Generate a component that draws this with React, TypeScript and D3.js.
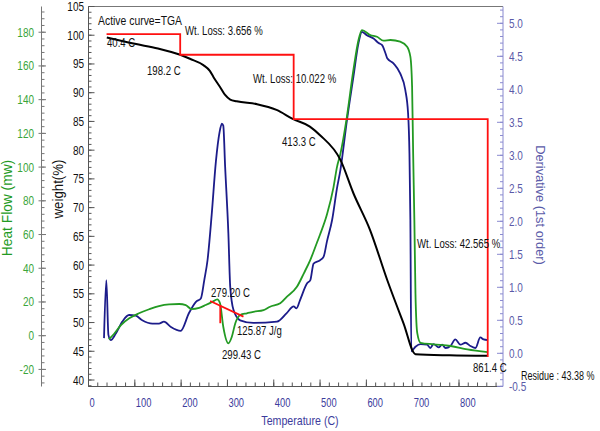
import React from 'react';
import * as d3 from 'd3';

// ---- Data ----
const tgaTemp = [39.5, 100, 150, 198, 219, 248, 262, 270, 284, 295, 306, 320, 364, 406, 442, 478, 500, 544, 572, 608, 645, 680, 706, 780, 862];
const tgaWeight = [99.6, 98.5, 97.7, 96.6, 95.9, 94.8, 93.8, 92.7, 91.0, 89.6, 88.8, 88.5, 88.0, 87.0, 85.4, 84.1, 82.6, 78.3, 72.5, 66.1, 57.4, 49.9, 44.5, 44.3, 44.2];

const dscTemp = [44, 55, 70, 88, 109, 131, 152, 174, 196, 210, 222, 239, 253, 268, 278, 284, 291, 302, 309.5, 317, 327.5, 342, 356, 378, 392, 414, 428, 450, 465, 479, 493, 500, 515, 529, 536.5, 544, 558, 572, 583, 590.5, 608.5, 623, 637, 652, 673, 688, 695, 698.7, 701, 703.6, 706, 708, 710, 717, 745, 782, 818, 862];
const dscHeatFlow = [-2.1, 1, 6.3, 10.3, 13.3, 15.7, 17.6, 18.6, 18.8, 18.2, 15.8, 16.5, 18.2, 20.2, 21.6, 19.2, 5.3, -4.5, -0.6, 7.4, 12.3, 13.3, 14.2, 15.2, 17.2, 19.2, 23, 29, 37, 45, 55, 60, 72, 88, 100, 108, 130, 157.6, 175.4, 181.3, 178.3, 177.3, 175, 175.4, 174.4, 171.4, 165.5, 147.7, 108, 68.6, 25, 8, 1.4, -4.2, -5.1, -6.1, -8.1, -9.8];

const derivTemp = [33.5, 38.5, 43, 48, 59, 73, 87.5, 102, 116, 138, 152, 163, 178, 199, 217, 232, 242.5, 250, 257, 266, 275, 283, 288, 291, 295, 302, 306, 313, 327.5, 356, 407, 428, 443, 449, 457, 472, 479, 486, 500, 507.5, 515, 526, 536.5, 544, 558, 572, 583, 590.5, 601, 615.5, 626.5, 634, 641, 645, 659, 673, 684, 690, 693, 695, 697, 706, 717, 731, 738, 745, 756, 763.5, 771, 781.5, 792, 803, 814, 825, 835.5, 846, 853, 862];
const derivValue = [0.23, 1.11, 0.28, 0.2, 0.3, 0.48, 0.58, 0.57, 0.5, 0.45, 0.45, 0.48, 0.4, 0.34, 0.61, 0.78, 0.83, 1.11, 1.41, 2.1, 2.9, 3.35, 3.48, 3.45, 2.83, 1.82, 1.01, 0.66, 0.5, 0.46, 0.48, 0.61, 0.71, 0.68, 0.81, 1.06, 1.11, 1.36, 1.41, 1.46, 1.7, 2.02, 2.5, 2.78, 3.53, 4.19, 4.7, 4.87, 4.82, 4.77, 4.7, 4.67, 4.55, 4.47, 4.39, 4.24, 3.99, 3.64, 3.03, 2.02, 0.03, 0.1, 0.14, 0.13, 0.08, 0.14, 0.09, 0.13, 0.08, 0.11, 0.21, 0.13, 0.16, 0.11, 0.08, 0.24, 0.21, 0.2];

const stepTemp = [39, 198, 198, 443, 443, 862, 862];
const stepWeight = [100.2, 100.2, 96.6, 96.6, 85.4, 85.4, 44.0];

const dscBaseTemp = [262.6, 334.6];
const dscBaseFlow = [20.6, 11.3];
const dscMarkTemp = [284.5, 284.5];
const dscMarkFlow = [18.2, 7.4];

const xTicks = [0, 100, 200, 300, 400, 500, 600, 700, 800];
const weightTicks = [40, 45, 50, 55, 60, 65, 70, 75, 80, 85, 90, 95, 100, 105];
const heatTicks = [-20, 0, 20, 40, 60, 80, 100, 120, 140, 160, 180];
const derivTicks = [-0.5, 0, 0.5, 1, 1.5, 2, 2.5, 3, 3.5, 4, 4.5, 5];

// ---- Layout ----
const W = 600, H = 431;
const L = 88.5, R = 503, T = 6.5, B = 386.5;
const FONT = "'Liberation Sans', Arial, sans-serif";

const x = d3.scaleLinear().domain([0, 895]).range([L, R]);
const yW = d3.scaleLinear().domain([38.87, 105]).range([B, T]);
const yH = d3.scaleLinear().domain([-30.13, 195.26]).range([B, T]);
const yD = d3.scaleLinear().domain([-0.503, 5.2545]).range([B, T]);

function mkLine(xs: number[], ys: number[], ys2: (v: number) => number) {
  const pts = xs.map((t, i) => [t, ys[i]] as [number, number]);
  return d3.line<[number, number]>().x(d => x(d[0])).y(d => ys2(d[1])).curve(d3.curveMonotoneX)(pts) || '';
}
function mkPoly(xs: number[], ys: number[], ys2: (v: number) => number) {
  const pts = xs.map((t, i) => [t, ys[i]] as [number, number]);
  return d3.line<[number, number]>().x(d => x(d[0])).y(d => ys2(d[1]))(pts) || '';
}

type NTProps = { x: number; y: number; size: number; sx?: number; rot?: number; anchor?: string; fill?: string; children: React.ReactNode };
function NText({ x, y, size, sx = 0.8, rot = 0, anchor = 'start', fill = '#111', children }: NTProps) {
  return (
    <text transform={`translate(${x},${y}) rotate(${rot}) scale(${sx},1)`} fontSize={size} textAnchor={anchor} fill={fill}>
      {children}
    </text>
  );
}

export default function App() {
  const heatMinor = d3.range(-28, 196, 4);
  const weightMinor = d3.range(39, 106, 1);
  const derivMinor = d3.range(-5, 53, 1).map(v => v / 10);
  const xMinor = d3.range(0, 895, 20);
  const green = '#239a23';
  const greenLbl = '#3aa53a';
  const blue = '#1c1c8a';
  const blueLbl = '#5a5aa8';
  const xLbl = '#3c3c9c';
  return (
    <svg width={W} height={H} style={{ position: 'absolute', left: 0, top: 0, background: '#fff' }} fontFamily={FONT}>
      <rect x={0} y={0} width={W} height={H} fill="#fff" />
      {/* frame */}
      <line x1={L} x2={R} y1={T} y2={T} stroke="#777" strokeWidth={1} />
      <line x1={L} x2={R} y1={B} y2={B} stroke="#555" strokeWidth={1} />
      <line x1={L} x2={L} y1={T} y2={B} stroke="#555" strokeWidth={1} />
      <line x1={R} x2={R} y1={T} y2={B} stroke="#8a8ad0" strokeWidth={1} />
      <line x1={41.5} x2={41.5} y1={T} y2={B} stroke="#777" strokeWidth={1} />

      {/* heat flow axis */}
      {heatMinor.map(v => (
        <line key={'hm' + v} x1={41.5} x2={44.5} y1={yH(v)} y2={yH(v)} stroke="#777" />
      ))}
      {heatTicks.map(v => (
        <g key={'h' + v}>
          <line x1={38.5} x2={46} y1={yH(v)} y2={yH(v)} stroke="#777" />
          <NText x={34} y={yH(v) + 4.5} size={12.5} anchor="end" fill={greenLbl}>{v}</NText>
        </g>
      ))}
      <NText x={12} y={208} size={14.5} sx={0.95} rot={-90} anchor="middle" fill={green}>Heat Flow (mw)</NText>

      {/* weight axis */}
      {weightMinor.map(v => (
        <line key={'wm' + v} x1={L} x2={L + 3} y1={yW(v)} y2={yW(v)} stroke="#555" />
      ))}
      {weightTicks.map(v => (
        <g key={'w' + v}>
          <line x1={L} x2={L + 6} y1={yW(v)} y2={yW(v)} stroke="#555" />
          <NText x={84} y={yW(v) + 4.5} size={12.5} anchor="end" fill="#111">{v}</NText>
        </g>
      ))}
      <NText x={63} y={189} size={14} sx={0.95} rot={-90} anchor="middle" fill="#111">weight(%)</NText>

      {/* derivative axis */}
      {derivMinor.map(v => (
        <line key={'dm' + v} x1={R - 3} x2={R} y1={yD(v)} y2={yD(v)} stroke="#8a8ad0" />
      ))}
      {derivTicks.map(v => (
        <g key={'d' + v}>
          <line x1={R - 6} x2={R} y1={yD(v)} y2={yD(v)} stroke="#8a8ad0" />
          <NText x={509} y={yD(v) + 4.5} size={12.5} fill={blueLbl}>{v.toFixed(1)}</NText>
        </g>
      ))}
      <NText x={536} y={205} size={13.5} sx={0.95} rot={90} anchor="middle" fill={blueLbl}>Derivative (1st order)</NText>

      {/* x axis */}
      {xMinor.map(v => (
        <line key={'xm' + v} x1={x(v)} x2={x(v)} y1={B} y2={B - 4} stroke="#555" />
      ))}
      {xTicks.map(v => (
        <g key={'x' + v}>
          <line x1={x(v)} x2={x(v)} y1={B} y2={B - 7} stroke="#555" />
          <NText x={x(v) + 1} y={407} size={12} sx={0.78} fill={xLbl}>{v}</NText>
        </g>
      ))}
      <NText x={300} y={425} size={12.5} sx={0.85} anchor="middle" fill={xLbl}>Temperature (C)</NText>

      {/* curves */}
      <path d={mkLine(derivTemp, derivValue, yD)} fill="none" stroke={blue} strokeWidth={1.8} />
      <path d={mkLine(dscTemp, dscHeatFlow, yH)} fill="none" stroke={green} strokeWidth={1.8} />
      <path d={mkLine(tgaTemp, tgaWeight, yW)} fill="none" stroke="#000" strokeWidth={2} />
      <path d={mkPoly(stepTemp, stepWeight, yW)} fill="none" stroke="#ff1010" strokeWidth={1.8} />
      <path d={mkPoly(dscBaseTemp, dscBaseFlow, yH)} fill="none" stroke="#ff1010" strokeWidth={1.8} />
      <path d={mkPoly(dscMarkTemp, dscMarkFlow, yH)} fill="none" stroke="#ff1010" strokeWidth={1.8} />

      {/* annotations */}
      <NText x={98} y={25} size={13}>Active curve=TGA</NText>
      <NText x={185} y={35} size={12}>Wt. Loss: 3.656 %</NText>
      <NText x={107} y={47} size={12}>40.4 C</NText>
      <NText x={147} y={75} size={12}>198.2 C</NText>
      <NText x={253} y={83} size={12}>Wt. Loss: 10.022 %</NText>
      <NText x={282} y={146} size={12}>413.3 C</NText>
      <NText x={417} y={248} size={12}>Wt. Loss: 42.565 %</NText>
      <NText x={211} y={297} size={12}>279.20 C</NText>
      <NText x={237} y={335} size={12}>125.87 J/g</NText>
      <NText x={222} y={359} size={12}>299.43 C</NText>
      <NText x={473} y={372} size={12}>861.4 C</NText>
      <NText x={521} y={380} size={12} sx={0.75}>Residue : 43.38 %</NText>
    </svg>
  );
}
